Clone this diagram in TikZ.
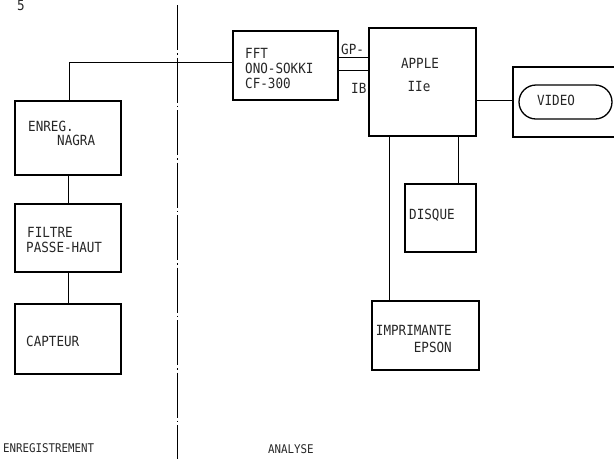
\documentclass[tikz,border=0pt]{standalone}
\usepackage{fontspec}
\newfontfamily\typ[FakeStretch=0.9]{DejaVu Sans Mono}
\usetikzlibrary{calc}
\begin{document}
\begin{tikzpicture}[x=1pt,y=-1pt,
  box/.style={draw,line width=1.3pt,inner sep=0pt},
  wire/.style={line width=1pt},
  lbl/.style={font=\typ\fontsize{14pt}{16pt}\selectfont,inner sep=0pt,text=black!85},
  small/.style={font=\typ\fontsize{12pt}{14pt}\selectfont},
  sep/.style={line width=1pt,dash pattern=on 45pt off 3pt on 1.5pt off 3pt}]
\useasboundingbox (0,0) rectangle (614,459);
% boxes
\node[box,minimum width=106pt,minimum height=74pt] (nagra) at (68,138) {};
\node[box,minimum width=106pt,minimum height=68pt] (filtre) at (68,238) {};
\node[box,minimum width=106pt,minimum height=70pt] (capteur) at (68,339) {};
\node[box,minimum width=105pt,minimum height=69pt] (fft) at (285.5,65.5) {};
\node[box,minimum width=107pt,minimum height=108pt] (apple) at (422.5,82) {};
\node[box,minimum width=110pt,minimum height=70pt] (video) at (568,102) {};
\node[box,minimum width=93pt,minimum height=34pt,rounded corners=17pt] (pill) at (565.5,102) {};
\node[box,minimum width=71pt,minimum height=68pt] (disque) at (440.5,218) {};
\node[box,minimum width=107pt,minimum height=69pt] (impr) at (425.5,335.5) {};
% texts
\node[lbl,anchor=west] (t1) at (28,126) {ENREG.};
\node[lbl,anchor=west] (t2) at (57,140) {NAGRA};
\node[lbl,anchor=west] (t3) at (27,232) {FILTRE};
\node[lbl,anchor=west] (t4) at (26,247) {PASSE-HAUT};
\node[lbl,anchor=west] (t5) at (26,341) {CAPTEUR};
\node[lbl,anchor=west] (t6) at (245,53) {FFT};
\node[lbl,anchor=west] (t7) at (245,68) {ONO-SOKKI};
\node[lbl,anchor=west] (t8) at (245,83) {CF-300};
\node[lbl,anchor=west] (gp) at (341,49) {GP-};
\node[lbl,anchor=west] (ib) at (351,88) {IB};
\node[lbl] (t9) at (420,63) {APPLE};
\node[lbl] (t10) at (419,86) {IIe};
\node[lbl] (t11) at (556,100) {VIDEO};
\node[lbl,anchor=west] (t12) at (409,215) {DISQUE};
\node[lbl,anchor=east] (t13) at (452,330) {IMPRIMANTE};
\node[lbl,anchor=east] (t14) at (452,347) {EPSON};
\node[lbl,small,anchor=west] (t15) at (3,448) {ENREGISTREMENT};
\node[lbl,small,anchor=west] (t16) at (268,449) {ANALYSE};
\node[lbl,anchor=north] (num) at (21,0.5) {5};
% separator
\coordinate (s1) at (177,5);
\coordinate (s2) at (177,459);
\draw[sep] (s1) -- (s2);
% connectors
\draw[wire] (nagra.south) -- (filtre.north);
\draw[wire] (filtre.south) -- (capteur.north);
\coordinate (n1) at ($(nagra.north west)+(55,0)$);
\coordinate (f1) at ($(fft.north west)+(0,32)$);
\draw[wire] (n1) |- (f1);
\coordinate (g1) at ($(fft.north east)+(0,27)$);
\coordinate (g2) at ($(fft.north east)+(0,40)$);
\draw[wire] (g1) -- (g1 -| apple.west);
\draw[wire] (g2) -- (g2 -| apple.west);
\coordinate (v1) at ($(video.west)+(0,-2)$);
\draw[wire] (v1) -- (v1 -| apple.east);
\coordinate (d1) at ($(disque.north east)+(-18,0)$);
\draw[wire] (d1) -- (d1 |- apple.south);
\coordinate (i1) at ($(impr.north west)+(18,0)$);
\draw[wire] (i1) -- (i1 |- apple.south);
\end{tikzpicture}
\end{document}
